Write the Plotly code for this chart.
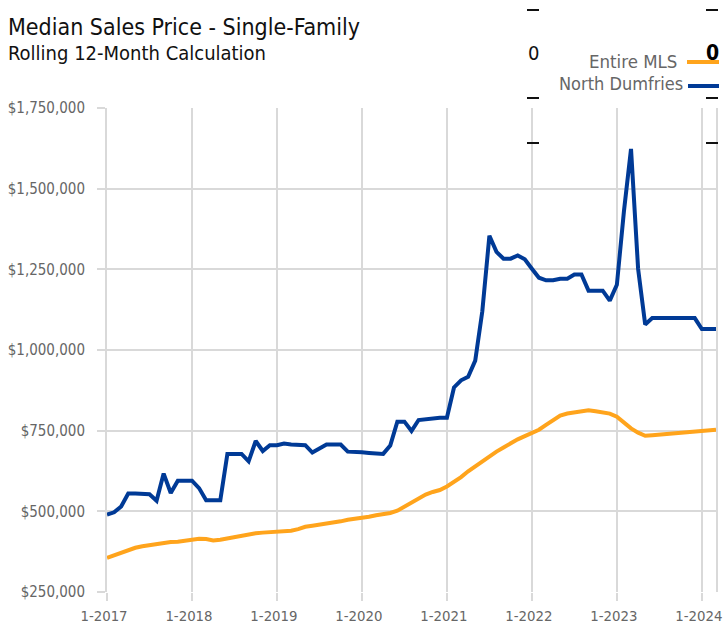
import plotly.graph_objects as go

# ---- data ----
years = list(range(2017, 2025))
months = [f"{m}-{y}" for y in years for m in range(1, 13)][:87]  # Jan 2017 .. Mar 2024
tick_labels = [f"1-{y}" for y in years]

north_dumfries = [
    490000, 497000, 515000, 555000, 555000, 555000, 553000, 533000, 617000, 557000, 595000, 595000,
    595000, 572000, 534000, 534000, 534000, 678000, 678000, 678000, 655000, 718000, 687000, 705000,
    705000, 710000, 707000, 705000, 705000, 682000, 695000, 707000, 707000, 707000, 685000, 685000,
    683000, 681000, 680000, 678000, 704000, 778000, 778000, 749000, 783000, 785000, 790000, 790000,
    790000, 884000, 906000, 917000, 967000, 1120000, 1354000, 1304000, 1283000, 1283000, 1293000, 1281000,
    1252000, 1224000, 1216000, 1216000, 1221000, 1221000, 1234000, 1234000, 1184000, 1184000, 1184000, 1153000,
    1202000, 1430000, 1623000, 1252000, 1079000, 1099000, 1099000, 1099000, 1099000, 1099000, 1099000, 1099000,
    1065000, 1065000, 1065000,
]
entire_mls = [
    356000, 364000, 371000, 379000, 387000, 392000, 396000, 399000, 404000, 405000, 406000, 409000,
    414000, 415000, 414000, 410000, 412000, 416000, 421000, 425000, 430000, 432000, 434000, 435000,
    436000, 438000, 440000, 445000, 452000, 455000, 458000, 464000, 466000, 469000, 474000, 476000,
    479000, 483000, 488000, 490000, 495000, 502000, 514000, 527000, 540000, 552000, 560000, 566000,
    577000, 590000, 606000, 624000, 640000, 655000, 669000, 685000, 698000, 711000, 723000, 733000,
    742000, 753000, 768000, 782000, 797000, 803000, 806000, 809000, 813000, 810000, 805000, 803000,
    793000, 775000, 757000, 744000, 734000, 736000, 738000, 740000, 742000, 743000, 743000, 745000,
    747000, 749000, 753000,
]
y_ticks = [250000, 500000, 750000, 1000000, 1250000, 1500000, 1750000]
y_tick_text = [f"${v:,}" for v in y_ticks]

ORANGE = "#FFA41C"
BLUE = "#003A96"
GRID = "#D9D9D9"
FONT = "Liberation Sans Narrow, DejaVu Sans Condensed, Roboto, sans-serif"

W, H = 723, 627
L, R, T, B = 107, 716, 108, 592


def px(x):
    return (x - L) / (R - L)


def py(y):
    return (B - y) / (B - T)


fig = go.Figure()
fig.add_trace(go.Scatter(x=months, y=entire_mls, mode="lines", name="Entire MLS",
                         line=dict(color=ORANGE, width=4), showlegend=False))
fig.add_trace(go.Scatter(x=months, y=north_dumfries, mode="lines", name="North Dumfries",
                         line=dict(color=BLUE, width=4), showlegend=False))

annotations = [
    dict(text="Median Sales Price - Single-Family", x=px(6), y=py(27), xanchor="left", yanchor="middle",
         font=dict(size=23, color="#111111", family=FONT)),
    dict(text="Rolling 12-Month Calculation", x=px(6), y=py(53), xanchor="left", yanchor="middle",
         font=dict(size=20, color="#111111", family=FONT)),
    dict(text="Entire MLS", x=px(679), y=py(61), xanchor="right", yanchor="middle",
         font=dict(size=18.5, color="#666666", family=FONT)),
    dict(text="North Dumfries", x=px(685), y=py(83), xanchor="right", yanchor="middle",
         font=dict(size=18, color="#666666", family=FONT)),
    dict(text="0", x=px(533), y=py(53), xanchor="center", yanchor="middle",
         font=dict(size=20, color="#111111", family=FONT)),
    dict(text="<b>0</b>", x=px(712), y=py(53), xanchor="center", yanchor="middle",
         font=dict(size=21, color="#000000", family=FONT)),
]
for a in annotations:
    a.update(xref="paper", yref="paper", showarrow=False)

shapes = [
    dict(type="line", x0=px(687), x1=px(719), y0=py(62), y1=py(62), line=dict(color=ORANGE, width=4)),
    dict(type="line", x0=px(688), x1=px(719), y0=py(86), y1=py(86), line=dict(color=BLUE, width=4)),
]
for dx in (533, 712):
    for dy in (10, 98, 143):
        shapes.append(dict(type="line", x0=px(dx - 6), x1=px(dx + 6), y0=py(dy), y1=py(dy),
                           line=dict(color="#111111", width=2)))
for s in shapes:
    s.update(xref="paper", yref="paper", layer="above")

fig.update_layout(
    width=W, height=H,
    margin=dict(l=L, r=W - R, t=T, b=H - B, pad=0, autoexpand=False),
    paper_bgcolor="white", plot_bgcolor="white",
    font=dict(family=FONT, color="#666666"),
    annotations=annotations, shapes=shapes,
    showlegend=False,
)
fig.update_xaxes(
    type="category", range=[0, len(months) - 1], automargin=False,
    tickmode="array", tickvals=[f"1-{y}" for y in years], ticktext=tick_labels,
    showgrid=True, gridcolor=GRID, gridwidth=2,
    ticks="outside", ticklen=8, tickwidth=2, tickcolor=GRID,
    tickfont=dict(size=14.8, color="#666666", family=FONT),
    showline=False, zeroline=False, ticklabelstandoff=2, ticklabelshift=-3,
)
fig.update_yaxes(
    range=[250000, 1750000], tickmode="array", tickvals=y_ticks, ticktext=y_tick_text,
    automargin=False,
    showgrid=True, gridcolor=GRID, gridwidth=2,
    ticks="outside", ticklen=8, tickwidth=2, tickcolor=GRID,
    tickfont=dict(size=15, color="#666666", family=FONT),
    showline=True, linecolor=GRID, linewidth=2, mirror=True, zeroline=False,
    ticklabelstandoff=9,
)

fig.write_html(
    "out.html",
    config={"displayModeBar": False},
    post_script="document.body.style.margin='0';document.body.style.overflow='hidden';",
)
